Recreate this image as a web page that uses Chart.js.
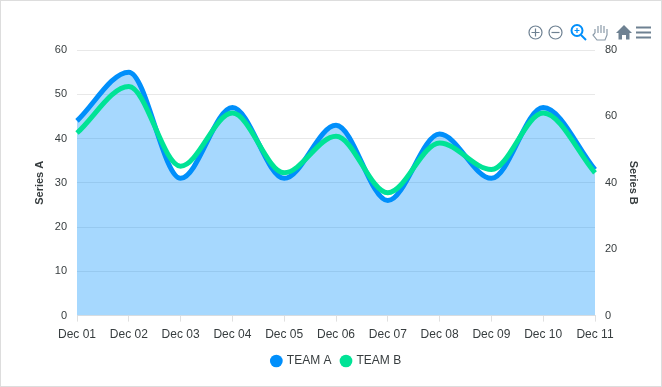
<!DOCTYPE html>
<html>
<head>
<meta charset="utf-8">
<script src="https://cdn.jsdelivr.net/npm/chart.js@4"></script>
<style>
html, body { margin: 0; padding: 0; background: #fff; }
#wrap { position: relative; width: 662px; height: 387px; box-sizing: border-box; border: 1px solid #ddd; }
#myChart { position: absolute; left: -1px; top: -1px; }
#tools { position: absolute; left: 0; top: 0; }
</style>
</head>
<body>
<div id="wrap">
  <canvas id="myChart" width="662" height="387"></canvas>
  <svg id="tools" width="660" height="60" viewBox="1 1 660 60" fill="none">
    <g stroke="#6e8192" stroke-width="1.2">
      <circle cx="535.500" cy="32.500" r="6.500"/><path d="M531.500 32.500h8M535.500 28.500v8"/>
      <circle cx="555.500" cy="32.500" r="6.500"/><path d="M551.500 32.500h8"/>
    </g>
    <g stroke="#008ffb" stroke-width="2">
      <circle cx="577" cy="30.500" r="5.500"/><path d="M581 35l5 5"/>
      <path d="M574.500 30.500h5M577 28v5" stroke-width="1.2"/>
    </g>
    <path d="M595 33v-4M598 33v-7M601 33v-8M604 33v-7M607 34v-5M595 33l-2 2 4 5h8l2-5v-3" stroke="#8a9aa8" stroke-width="1.2"/>
    <path d="M616 33l8-8 8 8h-2.500v6.500h-3.500v-4.500h-4v4.500h-3.500v-6.500z" fill="#6e8192"/>
    <path d="M636 27.500h15M636 32.500h15M636 37.500h15" stroke="#6e8192" stroke-width="1.800"/>
  </svg>
</div>
<script>
const categories = ['Dec 01','Dec 02','Dec 03','Dec 04','Dec 05','Dec 06','Dec 07','Dec 08','Dec 09','Dec 10','Dec 11'];
const teamA = [44, 55, 31, 47, 31, 43, 26, 41, 31, 47, 33];
const teamB = [55, 69, 45, 61, 43, 54, 37, 52, 44, 61, 43];
const ticksA = [0, 10, 20, 30, 40, 50, 60];
const ticksB = [0, 20, 40, 60, 80];

const TEXT = '#373d3f';
const FONT = '"Liberation Sans", Helvetica, Arial, sans-serif';
const BLUE = '#008ffb';
const GREEN = '#00e396';

const config = {
  type: 'line',
  data: {
    labels: categories,
    datasets: [
      {
        label: 'TEAM A',
        data: teamA,
        yAxisID: 'yA',
        order: 2,
        borderColor: BLUE,
        backgroundColor: 'rgba(0,143,251,0.35)',
        borderWidth: 5,
        fill: 'origin',
        pointRadius: 0,
        pointStyle: 'circle',
        cubicInterpolationMode: 'monotone'
      },
      {
        label: 'TEAM B',
        data: teamB,
        yAxisID: 'yB',
        order: 1,
        borderColor: GREEN,
        backgroundColor: GREEN,
        borderWidth: 5,
        fill: false,
        pointRadius: 0,
        pointStyle: 'circle',
        cubicInterpolationMode: 'monotone'
      }
    ]
  },
  options: {
    responsive: false,
    animation: false,
    layout: { padding: { top: 50, left: 33, right: 22, bottom: 10 } },
    plugins: {
      tooltip: { enabled: false },
      legend: {
        position: 'bottom',
        labels: {
          usePointStyle: true,
          boxHeight: 9,
          boxWidth: 9,
          padding: 10,
          color: TEXT,
          font: { family: FONT, size: 12 },
          generateLabels() {
            return [
              { text: 'TEAM A', fillStyle: BLUE, strokeStyle: BLUE, lineWidth: 0, pointStyle: 'circle', datasetIndex: 0, fontColor: TEXT },
              { text: 'TEAM B', fillStyle: GREEN, strokeStyle: GREEN, lineWidth: 0, pointStyle: 'circle', datasetIndex: 1, fontColor: TEXT }
            ];
          }
        }
      }
    },
    scales: {
      x: {
        offset: false,
        afterFit(s) { s.height -= 3; },
        grid: { drawOnChartArea: false, drawTicks: true, tickLength: 6, color: '#e0e0e0' },
        border: { color: '#e0e0e0' },
        ticks: { color: TEXT, font: { family: FONT, size: 12 }, maxRotation: 0, autoSkip: false, padding: 6 }
      },
      yA: {
        position: 'left',
        min: 0,
        max: 60,
        afterFit(s) { s.width = 44; },
        afterBuildTicks(s) { s.ticks = ticksA.map(v => ({ value: v })); },
        title: { display: true, text: 'Series A', color: TEXT, font: { family: FONT, size: 11, weight: 'bold' }, padding: 0 },
        grid: { color: '#e8e8e8', drawTicks: false },
        border: { display: false },
        ticks: { color: TEXT, font: { family: FONT, size: 11 }, padding: 10 }
      },
      yB: {
        position: 'right',
        min: 0,
        max: 80,
        afterFit(s) { s.width = 45; },
        afterBuildTicks(s) { s.ticks = ticksB.map(v => ({ value: v })); },
        title: { display: true, text: 'Series B', color: TEXT, font: { family: FONT, size: 11, weight: 'bold' }, padding: 0 },
        grid: { drawOnChartArea: false, drawTicks: false },
        border: { display: false },
        ticks: { color: TEXT, font: { family: FONT, size: 11 }, padding: 10 }
      }
    }
  }
};

const myChart = new Chart(document.getElementById('myChart'), config);
</script>
</body>
</html>
